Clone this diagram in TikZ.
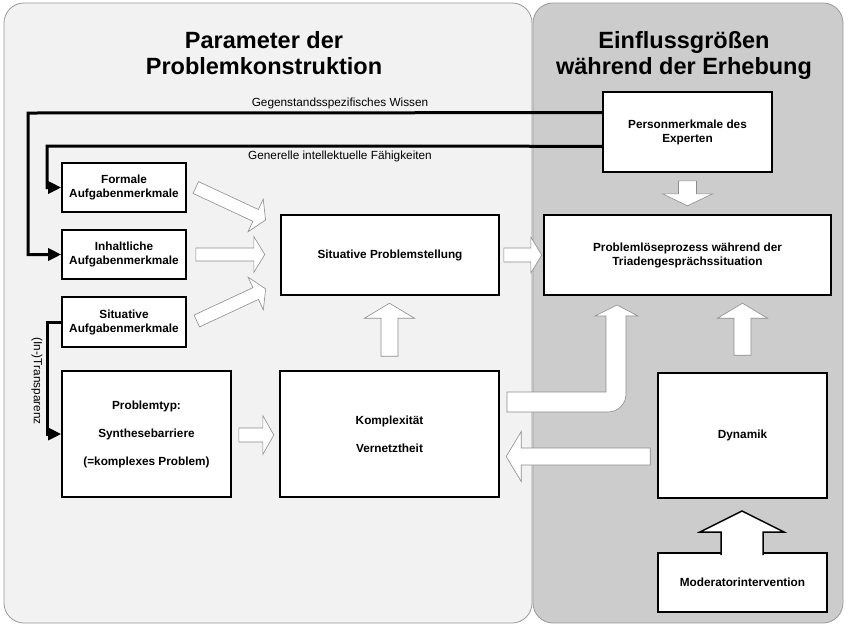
\documentclass[tikz,border=0pt]{standalone}
\usepackage{fontspec}
\setmainfont{Liberation Sans}
\usetikzlibrary{arrows.meta,calc}
\definecolor{feldlinks}{gray}{0.95}
\definecolor{feldrechts}{gray}{0.8}
\definecolor{feldrand}{gray}{0.6}
\definecolor{pfeilrand}{gray}{0.55}

\tikzset{
  kasten/.style={draw=black,line width=1.6pt,fill=white,inner sep=0pt,align=center,
    font=\fontsize{11.8}{14}\selectfont\bfseries},
  titel/.style={align=center,font=\fontsize{23.5}{26}\selectfont\bfseries},
  beschriftung/.style={font=\fontsize{11.8}{14}\selectfont},
  leitung/.style={line width=3pt,-{Triangle[length=13pt,width=12pt]}},
  blockpfeil/.style={draw=pfeilrand,fill=white,line width=0.6pt,line join=miter},
  pics/bpfeil/.style args={#1/#2/#3/#4}{code={
    \draw[blockpfeil] (0,{-#2/2}) -- ({#1-#4},{-#2/2}) -- ({#1-#4},{-#3/2}) -- (#1,0)
      -- ({#1-#4},{#3/2}) -- ({#1-#4},{#2/2}) -- (0,{#2/2}) -- cycle;
  }}
}

\begin{document}
\begin{tikzpicture}[x=1pt,y=-1pt]
\useasboundingbox (0,0) rectangle (849,633);
% Hintergrundfelder
\draw[fill=feldlinks,draw=feldrand,line width=0.8pt,rounded corners=20pt] (4,3) rectangle (532,623);
\draw[fill=feldrechts,draw=feldrand,line width=0.8pt,rounded corners=20pt] (533,3) rectangle (843,623);
\node[titel] (tparam) at (264,53) {Parameter der\\Problemkonstruktion};
\node[titel] (teinfl) at (684,55) {Einflussgrößen\\während der Erhebung};

% Kaesten
\node[kasten,minimum width=124,minimum height=49] (formale) at (124,187.5) {Formale\\Aufgabenmerkmale};
\node[kasten,minimum width=124,minimum height=49] (inhalt) at (124,254.5) {Inhaltliche\\Aufgabenmerkmale};
\node[kasten,minimum width=124,minimum height=50] (situ) at (124,322) {Situative\\Aufgabenmerkmale};
\node[kasten,minimum width=169,minimum height=126] (ptyp) at (146.5,434) {Problemtyp:\\[14pt]Synthesebarriere\\[14pt](=komplexes Problem)};
\node[kasten,minimum width=218,minimum height=80] (sps) at (390,255) {Situative Problemstellung};
\node[kasten,minimum width=219,minimum height=126] (komplex) at (389.5,434) {Komplexität\\[14pt]Vernetztheit};
\node[kasten,minimum width=169,minimum height=80] (pm) at (687.5,132) {Personmerkmale des\\Experten};
\node[kasten,minimum width=287,minimum height=80] (plp) at (687.5,255) {Problemlöseprozess während der\\Triadengesprächssituation};
\node[kasten,minimum width=169,minimum height=125] (dyn) at (742.5,435.5) {Dynamik};
\node[kasten,minimum width=169,minimum height=59] (mod) at (742.5,582.5) {Moderatorintervention};

% Leitungen
\coordinate (pm1) at ($(pm.north west)!0.2625!(pm.south west)$);
\coordinate (pm2) at ($(pm.north west)!0.675!(pm.south west)$);
\draw[leitung] (pm1) -- (28,113) |- (inhalt.west);
\draw[leitung] (pm2) -- (47,146) |- (formale.west);
\draw[leitung] (situ.west) -- (47,322) |- (ptyp.west);
\node[beschriftung,anchor=base] (wissen) at (340,106) {Gegenstandsspezifisches Wissen};
\node[beschriftung,anchor=base] (faehig) at (340,159) {Generelle intellektuelle Fähigkeiten};
\node[beschriftung,rotate=-90] (transp) at (37,381) {(In-)Transparenz};

% Blockpfeile
\pic[rotate=-25] at ($(formale.east)+(9,0)$) {bpfeil=77/13/36/11};
\pic at ($(inhalt.east)+(9,0)$) {bpfeil=69/13/36/11};
\pic[rotate=25] at ($(situ.east)+(10,-1)$) {bpfeil=76/13/36/11};
\pic at ($(sps.east)+(4,0)$) {bpfeil=38/14/36/11};
\pic[rotate=90] at ($(komplex.north)+(0,-14)$) {bpfeil=53/17/50/15};
\pic at ($(ptyp.east)+(7,1)$) {bpfeil=35/14/39/11};
\pic[rotate=180] at ($(dyn.west)+(-7,21)$) {bpfeil=144/17/50/15};
\pic[rotate=90] at ($(dyn.north)+(0,-17)$) {bpfeil=52/17/50/15};
\pic[rotate=-90] at ($(pm.south)+(0,8)$) {bpfeil=25/18/50/12};
\draw[blockpfeil] (507,392) -- (606,392) -- (606,316) -- (595,316) -- (617,305) -- (638,316)
  -- (626,316) -- (626,394) .. controls (626,404) and (618,412) .. (608,412) -- (507,412) -- cycle;
\draw[line width=1.5pt,fill=white,line join=miter] (721,555) -- (721,532) -- (700,532) -- (742,511)
  -- (784,532) -- (763,532) -- (763,555);
\end{tikzpicture}
\end{document}
